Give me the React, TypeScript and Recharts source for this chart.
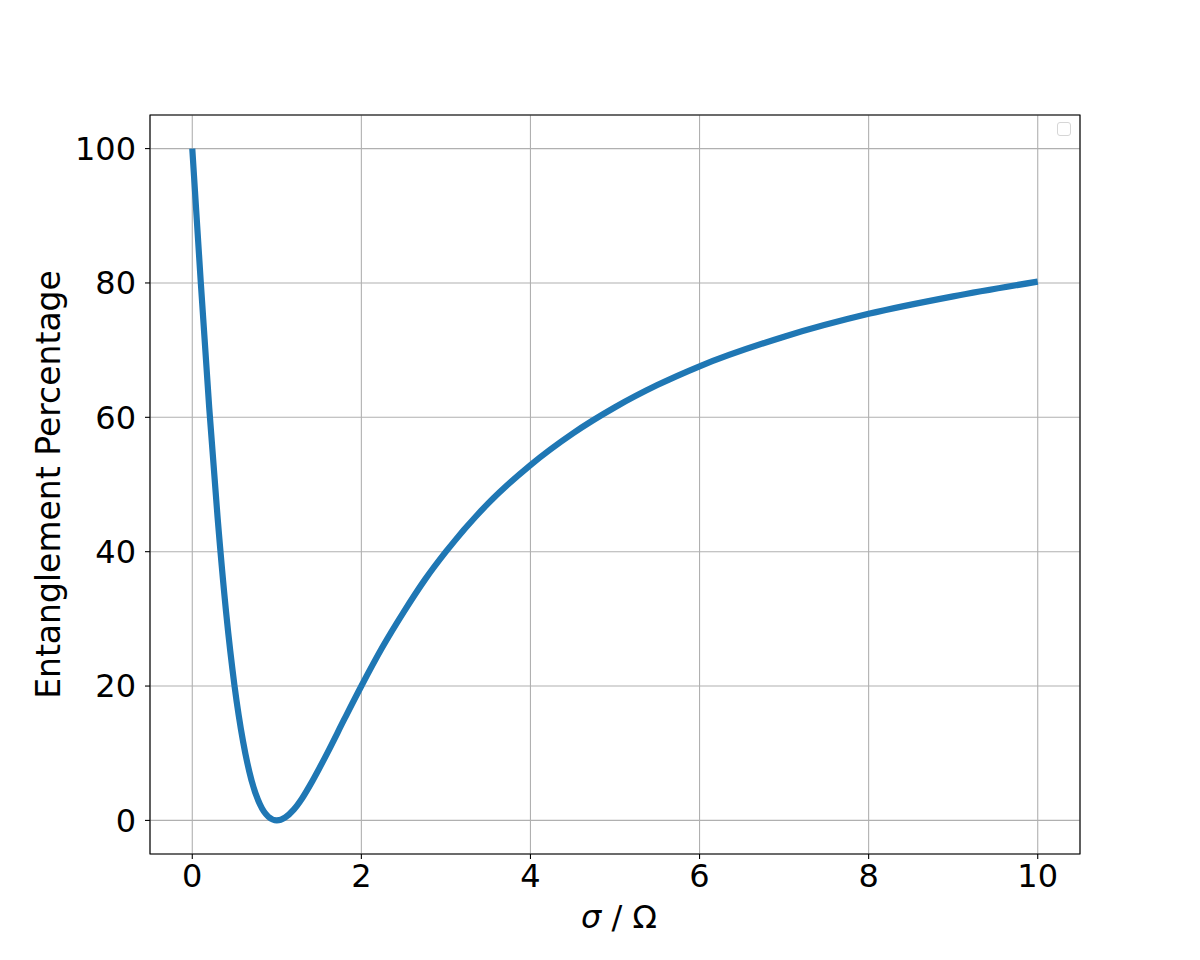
import React from "react";
import {
  LineChart,
  Line,
  XAxis,
  YAxis,
  CartesianGrid,
  ReferenceArea,
  Legend,
  Label,
} from "recharts";

// sigma / Omega and entanglement percentage
const sigmaRatio = [
  0, 0.1, 0.2, 0.3, 0.4, 0.5, 0.6, 0.7, 0.8, 0.9, 1.0, 1.1, 1.2, 1.3, 1.4, 1.5, 1.6, 1.8, 2.0,
  2.25, 2.5, 2.75, 3, 3.5, 4, 4.5, 5, 5.5, 6, 7, 8, 9, 10,
];
const entanglement = [
  100, 80.2, 61.5, 45.0, 31.0, 20.0, 11.8, 6.0, 2.4, 0.55, 0, 0.45, 1.6, 3.3, 5.4, 7.7, 10.1, 15.1, 20,
  25.8, 31.0, 35.8, 40, 47.2, 52.9, 57.6, 61.5, 64.8, 67.6, 72, 75.4, 78.0, 80.2,
];
const xTicks = [0, 2, 4, 6, 8, 10];
const yTicks = [0, 20, 40, 60, 80, 100];

const data = sigmaRatio.map((x, i) => ({ x, y: entanglement[i] }));

const FONT = "'DejaVu Sans', sans-serif";
const FS = 32;
const tickStyle = { fontSize: FS, fill: "#000", fontFamily: FONT };

function XTitle(props: any) {
  const vb = props.viewBox;
  return (
    <text x={vb.x + vb.width / 2 + 4} y={vb.y + 74} textAnchor="middle" fontSize={FS} fontFamily={FONT} fill="#000">
      <tspan fontStyle="italic">σ</tspan>
      <tspan> / Ω</tspan>
    </text>
  );
}

function YTitle(props: any) {
  const vb = props.viewBox;
  const cy = vb.y + vb.height / 2;
  return (
    <text
      x={60}
      y={cy}
      transform={`rotate(-90, 60, ${cy})`}
      textAnchor="middle"
      fontSize={33}
      fontFamily={FONT}
      fill="#000"
    >
      Entanglement Percentage
    </text>
  );
}

function EmptyLegend() {
  return (
    <div
      style={{
        width: 12,
        height: 12,
        border: "1.5px solid #d6d6d6",
        borderRadius: 3,
        background: "rgba(255,255,255,0.8)",
      }}
    />
  );
}

export default function App() {
  return (
    <div style={{ position: "absolute", left: 0, top: 0, width: 1200, height: 960, background: "#fff" }}>
      <LineChart width={1200} height={960} data={data} margin={{ top: 115, right: 120, bottom: 0, left: 0 }}>
        <CartesianGrid stroke="#b0b0b0" strokeWidth={1.1} />
        <XAxis
          dataKey="x"
          type="number"
          domain={[-0.5, 10.5]}
          ticks={xTicks}
          allowDataOverflow
          height={106}
          axisLine={false}
          tickLine={{ stroke: "#000", strokeWidth: 1.1 }}
          tickSize={5}
          tickMargin={5}
          tick={tickStyle}
        >
          <Label content={<XTitle />} />
        </XAxis>
        <YAxis
          type="number"
          domain={[-5, 105]}
          ticks={yTicks}
          allowDataOverflow
          width={150}
          axisLine={false}
          tickLine={{ stroke: "#000", strokeWidth: 1.1 }}
          tickSize={5}
          tickMargin={9}
          tick={tickStyle}
        >
          <Label content={<YTitle />} />
        </YAxis>
        <ReferenceArea x1={-0.5} x2={10.5} y1={-5} y2={105} fill="none" stroke="#000" strokeWidth={1.1} fillOpacity={0} />
        <Line
          dataKey="y"
          type="monotone"
          stroke="#1f77b4"
          strokeWidth={6.2}
          dot={false}
          activeDot={false}
          isAnimationActive={false}
        />
        <Legend
          layout="horizontal"
          verticalAlign="middle"
          align="center"
          content={<EmptyLegend />}
          wrapperStyle={{ top: 122, left: 1057, width: 15, height: 15 }}
        />
      </LineChart>
    </div>
  );
}
